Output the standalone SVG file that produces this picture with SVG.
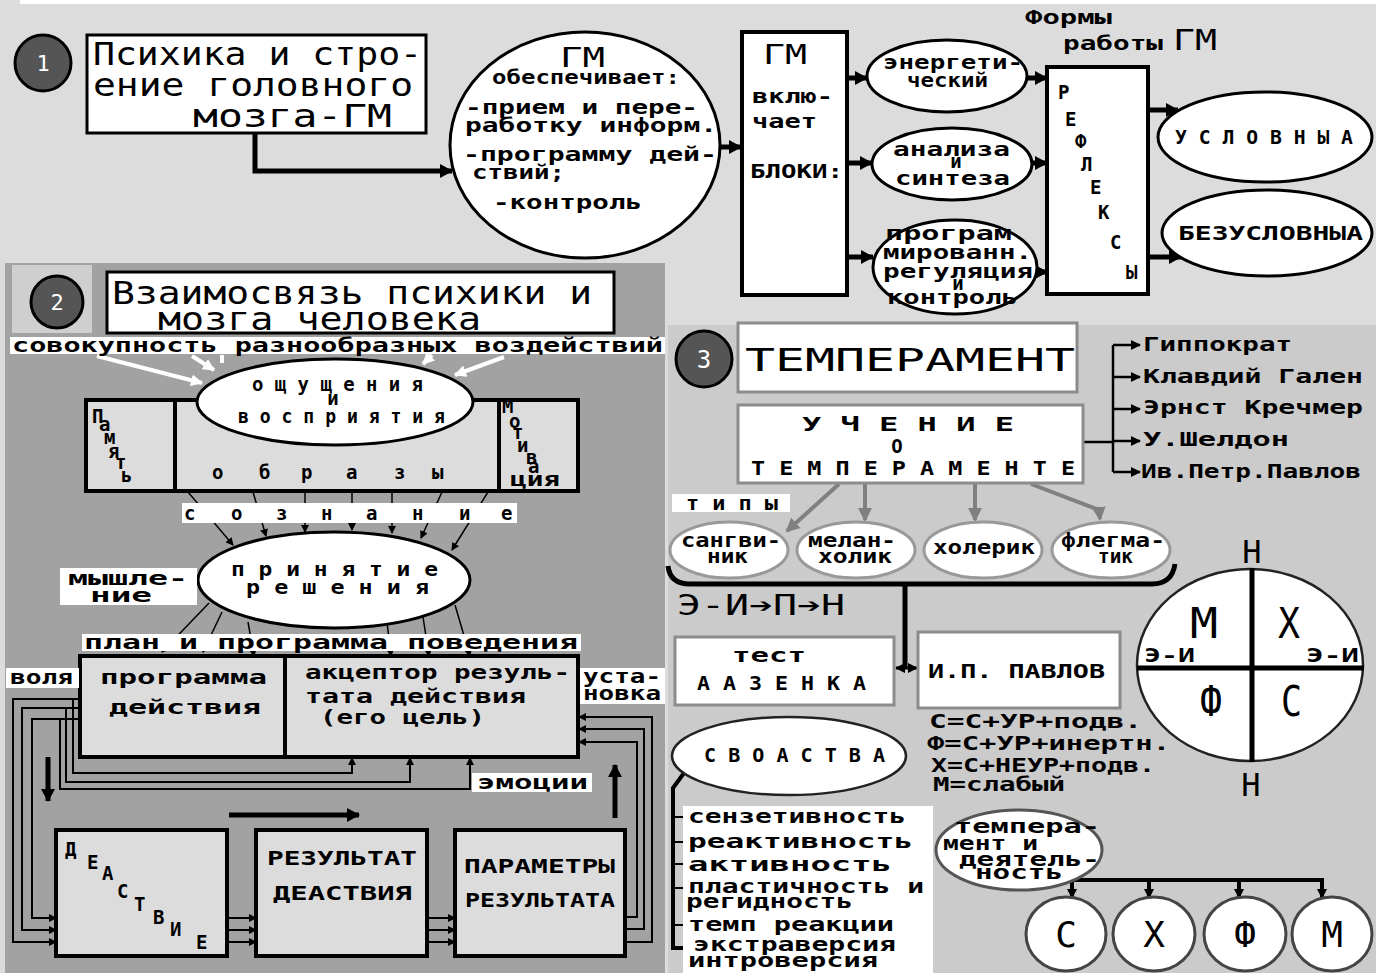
<svg xmlns="http://www.w3.org/2000/svg" width="1383" height="973" viewBox="0 0 1383 973">
<defs>
<style>
.px{font-family:"DejaVu Sans Mono","Liberation Mono",monospace;font-weight:bold;font-size:19px;fill:#000}
.th{font-family:"DejaVu Sans Mono","Liberation Mono",monospace;font-weight:normal;fill:#000}
.bx{fill:#fff;stroke:#000;stroke-width:3}
.gb{fill:#dcdcdc;stroke:#000;stroke-width:4}
.g3{fill:#fff;stroke:#8c8c8c;stroke-width:3}
.num{fill:#555;stroke:#000;stroke-width:3}
.lbl{fill:#fff}
</style>
<marker id="ab" markerUnits="userSpaceOnUse" markerWidth="13" markerHeight="14" refX="12" refY="7" orient="auto"><path d="M0,0L13,7L0,14z" fill="#000"/></marker>
<marker id="am" markerUnits="userSpaceOnUse" markerWidth="10" markerHeight="10" refX="9" refY="5" orient="auto-start-reverse"><path d="M0,0L10,5L0,10z" fill="#000"/></marker>
<marker id="as" markerUnits="userSpaceOnUse" markerWidth="8" markerHeight="8" refX="7" refY="4" orient="auto"><path d="M0,0L8,4L0,8z" fill="#000"/></marker>
<marker id="aw" markerUnits="userSpaceOnUse" markerWidth="12" markerHeight="12" refX="11" refY="6" orient="auto"><path d="M0,0L12,6L0,12z" fill="#fff"/></marker>
<marker id="ag" markerUnits="userSpaceOnUse" markerWidth="14" markerHeight="14" refX="12" refY="7" orient="auto"><path d="M0,0L14,7L0,14z" fill="#808080"/></marker>
</defs>

<g id="background">
<rect width="1383" height="973" fill="#dcdcdc"/>
<rect x="20" y="0" width="1356" height="4" fill="#fff"/>
<rect x="1376" y="0" width="7" height="973" fill="#fff"/>
<rect x="5" y="263" width="660" height="710" fill="#a2a2a2"/>
<rect x="668" y="325" width="708" height="648" fill="#cbcbcb"/>
<rect x="12" y="265" width="80" height="68" fill="#cfcfcf"/>
</g>

<g id="connectors" fill="none" stroke="#000">
<g stroke-width="5" marker-end="url(#ab)">
<path d="M255 133V171H452"/>
<path d="M720 147H741"/>
<path d="M847 78H867"/>
<path d="M847 163H872"/>
<path d="M847 257H873"/>
<path d="M1027 78H1047"/>
<path d="M1032 163H1047"/>
<path d="M1037 272H1047"/>
<path d="M1148 110H1178"/>
<path d="M1148 257H1181"/>
<path d="M48 757V801"/>
<path d="M229 815H359"/>
<path d="M615 818V765"/>
</g>
<g stroke="#fff" stroke-width="4">
<path d="M97 356L202 383" marker-end="url(#aw)"/>
<path d="M192 356L214 370" marker-end="url(#aw)"/>
<path d="M222 355V363"/>
<path d="M432 355L423 364" marker-end="url(#aw)"/>
<path d="M504 357L455 375" marker-end="url(#aw)"/>
</g>
<g stroke-width="1.5" marker-end="url(#as)">
<path d="M212 422L179 433"/>
<path d="M232 432L179 453"/>
<path d="M253 438L179 477"/>
<path d="M457 423L496 443"/>
<path d="M443 432L496 460"/>
<path d="M425 438L494 480"/>
<path d="M188 492L233 545"/>
<path d="M253 492L266 536"/>
<path d="M305 492V532"/>
<path d="M352 492V530"/>
<path d="M392 492V533"/>
<path d="M442 492L421 538"/>
<path d="M488 492L452 550"/>
<path d="M209 603L162 652"/>
<path d="M222 612L203 652"/>
<path d="M248 622L254 656"/>
<path d="M387 622L391 656"/>
<path d="M423 617L429 656"/>
<path d="M455 605L470 656"/>
</g>
<g stroke-width="2" marker-end="url(#as)">
<path d="M80 699H13V942H56"/>
<path d="M80 708H22V930H56"/>
<path d="M80 719H32V918H56"/>
<path d="M73 699V773H352V758"/>
<path d="M66 708V782H410V758"/>
<path d="M60 719V789H470V758"/>
<path d="M227 918H256"/>
<path d="M227 930H256"/>
<path d="M227 942H256"/>
<path d="M427 918H455"/>
<path d="M427 930H455"/>
<path d="M427 942H455"/>
<path d="M625 917H637V742H579"/>
<path d="M625 929H644V729H579"/>
<path d="M625 942H652V717H579"/>
</g>
<path d="M572 671H582" stroke-width="2"/>
<path d="M562 463H577" stroke-width="2"/>
<g stroke-width="2.5">
<path d="M1083 442H1113"/>
<path d="M1113 345V472"/>
<path d="M1113 345H1140" marker-end="url(#am)"/>
<path d="M1113 377H1140" marker-end="url(#am)"/>
<path d="M1113 409H1140" marker-end="url(#am)"/>
<path d="M1113 441H1140" marker-end="url(#am)"/>
<path d="M1113 472H1140" marker-end="url(#am)"/>
</g>
<g stroke="#808080" stroke-width="4" marker-end="url(#ag)">
<path d="M839 484L787 531"/>
<path d="M865 484V520"/>
<path d="M975 484V520"/>
<path d="M1031 484L1099 510L1100 519"/>
</g>
<path d="M668 566Q670 584 690 584H1152Q1172 584 1175 564" stroke-width="5"/>
<path d="M905 584V668" stroke-width="5"/>
<path d="M896 668H917" stroke-width="3" marker-start="url(#am)" marker-end="url(#am)"/>
<path d="M684 773L673 788V948H684" stroke-width="4"/>
<g stroke-width="2">
<path d="M673 817H686"/><path d="M673 842H686"/><path d="M673 864H686"/><path d="M673 888H686"/><path d="M673 925H686"/>
</g>
<path d="M1070 880H1324" stroke-width="4"/>
<g stroke-width="4" marker-end="url(#am)">
<path d="M1072 880V898"/><path d="M1149 880V898"/><path d="M1239 880V898"/><path d="M1322 880V898"/>
</g>
</g>

<g id="n1">
<circle cx="43" cy="63" r="28" class="num"/>
<text x="43" y="71" class="th" font-size="22" style="fill:#fff" text-anchor="middle">1</text>
</g>
<g id="title1">
<rect x="87" y="35" width="339" height="98" class="bx"/>
<text class="th" font-size="32" x="93" y="65" textLength="329" lengthAdjust="spacingAndGlyphs">Психика и стро-</text>
<text class="th" font-size="32" x="93" y="96" textLength="320" lengthAdjust="spacingAndGlyphs">ение головного</text>
<text class="th" font-size="32" x="193" y="127" textLength="199" lengthAdjust="spacingAndGlyphs">мозга-ГМ</text>
</g>
<g id="gm-provides">
<ellipse cx="585" cy="145" rx="135" ry="113" fill="#fff" stroke="#000" stroke-width="3"/>
<text class="th" font-size="27" x="560" y="67" textLength="45" lengthAdjust="spacingAndGlyphs">ГМ</text>
<text class="px" x="492" y="84" textLength="188" lengthAdjust="spacingAndGlyphs">обеспечивает:</text>
<text class="px" x="465" y="114" textLength="233" lengthAdjust="spacingAndGlyphs">-прием и пере-</text>
<text class="px" x="465" y="132" textLength="252" lengthAdjust="spacingAndGlyphs">работку информ.</text>
<text class="px" x="463" y="161" textLength="254" lengthAdjust="spacingAndGlyphs">-программу дей-</text>
<text class="px" x="472" y="179" textLength="93" lengthAdjust="spacingAndGlyphs">ствий;</text>
<text class="px" x="493" y="209" textLength="149" lengthAdjust="spacingAndGlyphs">-контроль</text>
</g>
<g id="gm-blocks">
<rect x="742" y="32" width="105" height="263" fill="#fff" stroke="#000" stroke-width="4"/>
<text class="th" font-size="27" x="763" y="64" textLength="44" lengthAdjust="spacingAndGlyphs">ГМ</text>
<text class="px" x="752" y="103" textLength="81" lengthAdjust="spacingAndGlyphs">вклю-</text>
<text class="px" x="752" y="128" textLength="65" lengthAdjust="spacingAndGlyphs">чает</text>
<text class="px" font-size="17" x="750" y="178" textLength="93" lengthAdjust="spacingAndGlyphs">БЛОКИ:</text>
</g>
<g id="block-energy">
<ellipse cx="947" cy="76" rx="80" ry="36" fill="#fff" stroke="#000" stroke-width="3"/>
<text class="px" font-size="18" x="883" y="69" textLength="140" lengthAdjust="spacingAndGlyphs">энергети-</text>
<text class="px" font-size="18" x="907" y="87" textLength="81" lengthAdjust="spacingAndGlyphs">ческий</text>
</g>
<g id="block-analysis">
<ellipse cx="952" cy="164" rx="80" ry="36" fill="#fff" stroke="#000" stroke-width="3"/>
<text class="px" font-size="18" x="893" y="156" textLength="117" lengthAdjust="spacingAndGlyphs">анализа</text>
<text class="px" font-size="18" x="956" y="168" text-anchor="middle">и</text>
<text class="px" font-size="18" x="895" y="185" textLength="115" lengthAdjust="spacingAndGlyphs">синтеза</text>
</g>
<g id="block-program">
<ellipse cx="955" cy="267" rx="82" ry="47" fill="#fff" stroke="#000" stroke-width="3"/>
<text class="px" font-size="18" x="885" y="240" textLength="127" lengthAdjust="spacingAndGlyphs">програм</text>
<text class="px" font-size="18" x="883" y="259" textLength="149" lengthAdjust="spacingAndGlyphs">мированн.</text>
<text class="px" font-size="18" x="883" y="278" textLength="150" lengthAdjust="spacingAndGlyphs">регуляция</text>
<text class="px" font-size="16" x="958" y="290" text-anchor="middle">и</text>
<text class="px" font-size="18" x="887" y="304" textLength="131" lengthAdjust="spacingAndGlyphs">контроль</text>
</g>
<g id="forms-label">
<text class="px" font-size="18" x="1025" y="24" textLength="87" lengthAdjust="spacingAndGlyphs">Формы</text>
<text class="px" font-size="18" x="1063" y="50" textLength="100" lengthAdjust="spacingAndGlyphs">работы</text>
<text class="th" font-size="29" x="1173" y="50" textLength="44" lengthAdjust="spacingAndGlyphs">ГМ</text>
</g>
<g id="reflexes">
<rect x="1047" y="67" width="101" height="227" fill="#fff" stroke="#000" stroke-width="4"/>
<text class="px" font-size="21" x="1058" y="99">Р</text>
<text class="px" font-size="21" x="1065" y="126">Е</text>
<text class="px" font-size="21" x="1075" y="148">Ф</text>
<text class="px" font-size="21" x="1081" y="171">Л</text>
<text class="px" font-size="21" x="1090" y="194">Е</text>
<text class="px" font-size="21" x="1098" y="219">К</text>
<text class="px" font-size="21" x="1110" y="249">С</text>
<text class="px" font-size="21" x="1126" y="279">Ы</text>
</g>
<g id="conditional">
<ellipse cx="1265" cy="137" rx="107" ry="45" fill="#fff" stroke="#000" stroke-width="3"/>
<text class="px" font-size="20" x="1175" y="144" textLength="178" lengthAdjust="spacingAndGlyphs">У С Л О В Н Ы А</text>
</g>
<g id="unconditional">
<ellipse cx="1267" cy="233" rx="105" ry="43" fill="#fff" stroke="#000" stroke-width="3"/>
<text class="px" font-size="20" x="1178" y="240" textLength="185" lengthAdjust="spacingAndGlyphs">БЕЗУСЛОВНЫА</text>
</g>

<g id="n2">
<circle cx="57" cy="302" r="26" class="num"/>
<text x="57" y="310" class="th" font-size="22" style="fill:#fff" text-anchor="middle">2</text>
</g>
<g id="title2">
<rect x="107" y="272" width="507" height="61" class="bx"/>
<text class="th" font-size="32" x="112" y="304" textLength="480" lengthAdjust="spacingAndGlyphs">Взаимосвязь психики и</text>
<text class="th" font-size="32" x="158" y="330" textLength="323" lengthAdjust="spacingAndGlyphs">мозга человека</text>
</g>
<g id="influences">
<rect x="10" y="337" width="655" height="17" class="lbl"/>
<text class="px" font-size="19" x="12" y="352" textLength="651" lengthAdjust="spacingAndGlyphs">совокупность разнообразных воздействий</text>
</g>
<g id="images-row">
<rect x="86" y="400" width="492" height="91" class="gb"/>
<path d="M175 400V491M499 400V491" stroke="#000" stroke-width="4"/>
<text class="px" font-size="22" x="92" y="423">П</text>
<text class="px" font-size="18" x="99" y="431">а</text>
<text class="px" font-size="18" x="104" y="444">м</text>
<text class="px" font-size="18" x="108" y="458">я</text>
<text class="px" font-size="18" x="115" y="469">т</text>
<text class="px" font-size="18" x="121" y="482">ь</text>
<text class="px" font-size="19" x="502" y="413">М</text>
<text class="px" font-size="18" x="509" y="428">о</text>
<text class="px" font-size="18" x="512" y="439">т</text>
<text class="px" font-size="18" x="517" y="452">и</text>
<text class="px" font-size="18" x="526" y="464">в</text>
<text class="px" font-size="14" x="528" y="473">а</text>
<text class="px" font-size="18" x="510" y="486" textLength="50" lengthAdjust="spacingAndGlyphs">ция</text>
<text class="px" font-size="23" x="212" y="479">о</text>
<text class="px" font-size="23" x="259" y="479">б</text>
<text class="px" font-size="23" x="301" y="479">р</text>
<text class="px" font-size="23" x="346" y="479">а</text>
<text class="px" font-size="23" x="394" y="479">з</text>
<text class="px" font-size="23" x="432" y="479">ы</text>
</g>
<g id="sensations">
<ellipse cx="335" cy="402" rx="138" ry="43" fill="#fff" stroke="#000" stroke-width="3"/>
<text class="px" font-size="20" x="252" y="391" textLength="171" lengthAdjust="spacingAndGlyphs">о щ у щ е н и я</text>
<text class="px" font-size="18" x="333" y="405" text-anchor="middle">и</text>
<text class="px" font-size="20" x="238" y="423" textLength="207" lengthAdjust="spacingAndGlyphs">в о с п р и я т и я</text>
</g>
<g id="consciousness">
<rect x="182" y="503" width="335" height="20" class="lbl"/>
<text class="px" font-size="22" x="184" y="520">с</text>
<text class="px" font-size="22" x="231" y="520">о</text>
<text class="px" font-size="22" x="276" y="520">з</text>
<text class="px" font-size="22" x="321" y="520">н</text>
<text class="px" font-size="22" x="366" y="520">а</text>
<text class="px" font-size="22" x="412" y="520">н</text>
<text class="px" font-size="22" x="459" y="520">и</text>
<text class="px" font-size="22" x="501" y="520">е</text>
</g>
<g id="decision">
<ellipse cx="334" cy="580" rx="136" ry="48" fill="#fff" stroke="#000" stroke-width="3"/>
<text class="px" font-size="20" x="231" y="576" textLength="207" lengthAdjust="spacingAndGlyphs">п р и н я т и е</text>
<text class="px" font-size="20" x="246" y="594" textLength="183" lengthAdjust="spacingAndGlyphs">р е ш е н и я</text>
</g>
<g id="thinking">
<rect x="60" y="568" width="137" height="37" class="lbl"/>
<text class="px" x="68" y="585" textLength="120" lengthAdjust="spacingAndGlyphs">мышле-</text>
<text class="px" x="90" y="602" textLength="62" lengthAdjust="spacingAndGlyphs">ние</text>
</g>
<g id="plan">
<rect x="82" y="634" width="499" height="17" class="lbl"/>
<text class="px" x="84" y="649" textLength="494" lengthAdjust="spacingAndGlyphs">план и программа поведения</text>
</g>
<g id="program-acceptor">
<rect x="80" y="656" width="498" height="101" class="gb"/>
<path d="M285 656V757" stroke="#000" stroke-width="4"/>
<text class="px" x="100" y="684" textLength="167" lengthAdjust="spacingAndGlyphs">программа</text>
<text class="px" x="109" y="714" textLength="152" lengthAdjust="spacingAndGlyphs">действия</text>
<text class="px" x="305" y="679" textLength="265" lengthAdjust="spacingAndGlyphs">акцептор резуль-</text>
<text class="px" x="305" y="703" textLength="221" lengthAdjust="spacingAndGlyphs">тата действия</text>
<text class="px" x="320" y="724" textLength="165" lengthAdjust="spacingAndGlyphs">(его цель)</text>
</g>
<g id="will">
<rect x="6" y="668" width="73" height="20" class="lbl"/>
<text class="px" x="10" y="684" textLength="63" lengthAdjust="spacingAndGlyphs">воля</text>
</g>
<g id="setting">
<rect x="580" y="668" width="85" height="36" class="lbl"/>
<text class="px" x="583" y="683" textLength="78" lengthAdjust="spacingAndGlyphs">уста-</text>
<text class="px" x="583" y="700" textLength="78" lengthAdjust="spacingAndGlyphs">новка</text>
</g>
<g id="emotions">
<rect x="472" y="773" width="120" height="19" class="lbl"/>
<text class="px" x="477" y="789" textLength="111" lengthAdjust="spacingAndGlyphs">эмоции</text>
</g>
<g id="action">
<rect x="56" y="830" width="171" height="126" class="gb"/>
<text class="px" font-size="22" x="65" y="856">Д</text>
<text class="px" font-size="22" x="87" y="869">Е</text>
<text class="px" font-size="22" x="102" y="880">А</text>
<text class="px" font-size="22" x="117" y="898">С</text>
<text class="px" font-size="22" x="134" y="911">Т</text>
<text class="px" font-size="22" x="153" y="924">В</text>
<text class="px" font-size="22" x="170" y="936">И</text>
<text class="px" font-size="22" x="196" y="949">Е</text>
</g>
<g id="result">
<rect x="256" y="830" width="171" height="126" class="gb"/>
<text class="px" font-size="21" x="267" y="865" textLength="150" lengthAdjust="spacingAndGlyphs">РЕЗУЛЬТАТ</text>
<text class="px" font-size="21" x="273" y="900" textLength="139" lengthAdjust="spacingAndGlyphs">ДЕАСТВИЯ</text>
</g>
<g id="parameters">
<rect x="455" y="830" width="170" height="126" class="gb"/>
<text class="px" font-size="21" x="464" y="873" textLength="151" lengthAdjust="spacingAndGlyphs">ПАРАМЕТРЫ</text>
<text class="px" font-size="21" x="465" y="907" textLength="150" lengthAdjust="spacingAndGlyphs">РЕЗУЛЬТАТА</text>
</g>

<g id="n3">
<circle cx="704" cy="359" r="28" class="num"/>
<text x="704" y="368" class="th" font-size="24" style="fill:#fff" text-anchor="middle">3</text>
</g>
<g id="temperament">
<rect x="738" y="323" width="339" height="69" class="g3"/>
<text class="th" font-size="32" x="745" y="371" textLength="330" lengthAdjust="spacingAndGlyphs">ТЕМПЕРАМЕНТ</text>
</g>
<g id="teaching">
<rect x="738" y="405" width="345" height="78" class="g3"/>
<text class="px" font-size="20" x="802" y="431" textLength="212" lengthAdjust="spacingAndGlyphs">У Ч Е Н И Е</text>
<text class="px" font-size="20" x="897" y="453" text-anchor="middle">О</text>
<text class="px" font-size="20" x="751" y="475" textLength="324" lengthAdjust="spacingAndGlyphs">Т Е М П Е Р А М Е Н Т Е</text>
</g>
<g id="authors">
<text class="px" x="1143" y="351" textLength="149" lengthAdjust="spacingAndGlyphs">Гиппократ</text>
<text class="px" x="1143" y="383" textLength="220" lengthAdjust="spacingAndGlyphs">Клавдий Гален</text>
<text class="px" x="1143" y="414" textLength="220" lengthAdjust="spacingAndGlyphs">Эрнст Кречмер</text>
<text class="px" x="1143" y="446" textLength="146" lengthAdjust="spacingAndGlyphs">У.Шелдон</text>
<text class="px" x="1141" y="478" textLength="220" lengthAdjust="spacingAndGlyphs">Ив.Петр.Павлов</text>
</g>
<g id="types-label">
<rect x="672" y="494" width="118" height="18" class="lbl"/>
<text class="px" x="686" y="510" textLength="92" lengthAdjust="spacingAndGlyphs">т и п ы</text>
</g>
<g id="sanguine">
<ellipse cx="729" cy="550" rx="59" ry="28" fill="#fff" stroke="#999" stroke-width="3"/>
<text class="px" font-size="17" x="681" y="547" textLength="100" lengthAdjust="spacingAndGlyphs">сангви-</text>
<text class="px" font-size="17" x="707" y="563" textLength="41" lengthAdjust="spacingAndGlyphs">ник</text>
</g>
<g id="melancholic">
<ellipse cx="856" cy="550" rx="59" ry="28" fill="#fff" stroke="#999" stroke-width="3"/>
<text class="px" font-size="17" x="808" y="547" textLength="88" lengthAdjust="spacingAndGlyphs">мелан-</text>
<text class="px" font-size="17" x="818" y="563" textLength="74" lengthAdjust="spacingAndGlyphs">холик</text>
</g>
<g id="choleric">
<ellipse cx="983" cy="550" rx="59" ry="28" fill="#fff" stroke="#999" stroke-width="3"/>
<text class="px" font-size="17" x="933" y="554" textLength="102" lengthAdjust="spacingAndGlyphs">холерик</text>
</g>
<g id="phlegmatic">
<ellipse cx="1111" cy="550" rx="59" ry="28" fill="#fff" stroke="#999" stroke-width="3"/>
<text class="px" font-size="17" x="1061" y="547" textLength="104" lengthAdjust="spacingAndGlyphs">флегма-</text>
<text class="px" font-size="17" x="1098" y="563" textLength="35" lengthAdjust="spacingAndGlyphs">тик</text>
</g>
<g id="formula-label">
<text class="th" font-size="28" x="677" y="615" textLength="168" lengthAdjust="spacingAndGlyphs">Э-И➔П➔Н</text>
</g>
<g id="eysenck">
<rect x="675" y="637" width="219" height="68" class="g3"/>
<text class="px" x="732" y="662" textLength="74" lengthAdjust="spacingAndGlyphs">тест</text>
<text class="px" font-size="20" x="697" y="690" textLength="169" lengthAdjust="spacingAndGlyphs">А А З Е Н К А</text>
</g>
<g id="pavlov">
<rect x="918" y="632" width="202" height="76" class="g3"/>
<text class="px" font-size="21" x="928" y="678" textLength="177" lengthAdjust="spacingAndGlyphs">И.П. ПАВЛОВ</text>
</g>
<g id="pavlov-formulas">
<text class="px" x="929" y="728" textLength="213" lengthAdjust="spacingAndGlyphs">С=С+УР+подв.</text>
<text class="px" x="927" y="750" textLength="243" lengthAdjust="spacingAndGlyphs">Ф=С+УР+инертн.</text>
<text class="px" x="931" y="772" textLength="224" lengthAdjust="spacingAndGlyphs">Х=С+НЕУР+подв.</text>
<text class="px" x="933" y="791" textLength="132" lengthAdjust="spacingAndGlyphs">М=слабый</text>
</g>
<g id="wheel">
<ellipse cx="1250" cy="665" rx="113" ry="96" fill="#fff" stroke="#222" stroke-width="2.5"/>
<path d="M1252 568V762M1137 668H1364" stroke="#000" stroke-width="5"/>
<text class="th" font-size="32" x="1252" y="563" text-anchor="middle">Н</text>
<text class="th" font-size="32" x="1251" y="796" text-anchor="middle">Н</text>
<text class="th" font-size="42" x="1190" y="638" textLength="28" lengthAdjust="spacingAndGlyphs">М</text>
<text class="th" font-size="42" x="1278" y="638" textLength="22" lengthAdjust="spacingAndGlyphs">Х</text>
<text class="th" font-size="42" x="1200" y="716" textLength="22" lengthAdjust="spacingAndGlyphs">Ф</text>
<text class="th" font-size="42" x="1281" y="716" textLength="21" lengthAdjust="spacingAndGlyphs">С</text>
<text class="px" x="1144" y="662" textLength="51" lengthAdjust="spacingAndGlyphs">Э-И</text>
<text class="px" x="1306" y="662" textLength="53" lengthAdjust="spacingAndGlyphs">Э-И</text>
</g>
<g id="properties">
<ellipse cx="789" cy="756" rx="117" ry="39" fill="#fff" stroke="#222" stroke-width="2.5"/>
<text class="px" font-size="21" x="704" y="762" textLength="181" lengthAdjust="spacingAndGlyphs">С В О А С Т В А</text>
</g>
<g id="properties-list">
<rect x="683" y="806" width="250" height="167" class="lbl"/>
<text class="px" x="688" y="823" textLength="218" lengthAdjust="spacingAndGlyphs">сензетивность</text>
<text class="px" x="688" y="848" textLength="225" lengthAdjust="spacingAndGlyphs">реактивность</text>
<text class="px" x="688" y="871" textLength="204" lengthAdjust="spacingAndGlyphs">активность</text>
<text class="px" x="688" y="893" textLength="236" lengthAdjust="spacingAndGlyphs">пластичность и</text>
<text class="px" x="686" y="908" textLength="167" lengthAdjust="spacingAndGlyphs">регидность</text>
<text class="px" x="688" y="931" textLength="206" lengthAdjust="spacingAndGlyphs">темп реакции</text>
<text class="px" x="693" y="951" textLength="203" lengthAdjust="spacingAndGlyphs">экстраверсия</text>
<text class="px" x="688" y="967" textLength="190" lengthAdjust="spacingAndGlyphs">интроверсия</text>
</g>
<g id="temp-activity">
<ellipse cx="1019" cy="850" rx="83" ry="40" fill="#fff" stroke="#555" stroke-width="3"/>
<text class="px" font-size="18" x="954" y="833" textLength="146" lengthAdjust="spacingAndGlyphs">темпера-</text>
<text class="px" font-size="18" x="943" y="850" textLength="95" lengthAdjust="spacingAndGlyphs">мент и</text>
<text class="px" font-size="18" x="959" y="866" textLength="141" lengthAdjust="spacingAndGlyphs">деятель-</text>
<text class="px" font-size="18" x="975" y="879" textLength="88" lengthAdjust="spacingAndGlyphs">ность</text>
</g>
<g id="type-circles">
<ellipse cx="1066" cy="934" rx="40" ry="37" fill="#fff" stroke="#444" stroke-width="3"/>
<ellipse cx="1154" cy="934" rx="41" ry="37" fill="#fff" stroke="#444" stroke-width="3"/>
<ellipse cx="1245" cy="934" rx="41" ry="37" fill="#fff" stroke="#444" stroke-width="3"/>
<ellipse cx="1332" cy="934" rx="40" ry="37" fill="#fff" stroke="#444" stroke-width="3"/>
<text class="th" font-size="36" x="1066" y="947" text-anchor="middle">С</text>
<text class="th" font-size="36" x="1154" y="947" text-anchor="middle">Х</text>
<text class="th" font-size="36" x="1245" y="947" text-anchor="middle">Ф</text>
<text class="th" font-size="36" x="1332" y="947" text-anchor="middle">М</text>
</g>
</svg>
